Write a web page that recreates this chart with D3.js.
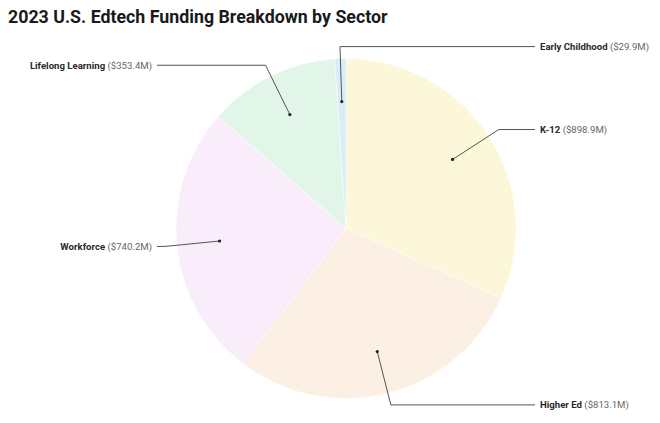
<!DOCTYPE html>
<html>
<head>
<meta charset="utf-8">
<script src="https://cdn.jsdelivr.net/npm/d3@7"></script>
<style>
  html, body { margin: 0; padding: 0; background: #fff; }
  svg { display: block; font-family: Roboto, "Noto Sans", sans-serif; }
</style>
</head>
<body>
<svg id="chart" width="660" height="423"></svg>
<script>
const title = "2023 U.S. Edtech Funding Breakdown by Sector";
const sectors = ["K-12", "Higher Ed", "Workforce", "Lifelong Learning", "Early Childhood"];
const funding = [898.9, 813.1, 740.2, 353.4, 29.9];
const valueLabels = ["($898.9M)", "($813.1M)", "($740.2M)", "($353.4M)", "($29.9M)"];
const sliceColors = ["#fdf7da", "#fcefe3", "#f9edfb", "#e2f5e9", "#d9ecf8"];

const W = 660, H = 423;
const cx = 346, cy = 228.5, R = 170;
const svg = d3.select("#chart");

svg.append("text")
  .attr("x", 8).attr("y", 23)
  .attr("font-size", 17.8).attr("font-weight", 700).attr("fill", "#1a1a1a")
  .text(title);

const data = sectors.map((s, i) => ({ name: s, value: funding[i], label: valueLabels[i], color: sliceColors[i] }));
const pie = d3.pie().value(d => d.value).sort(null);
const arcs = pie(data);

const g = svg.append("g").attr("transform", `translate(${cx},${cy})`);
const arc = d3.arc().innerRadius(0).outerRadius(R);

g.selectAll("path.slice").data(arcs).join("path")
  .attr("class", "slice")
  .attr("d", arc)
  .attr("fill", d => d.data.color)
  .attr("stroke", "#ffffff").attr("stroke-width", 0.5);

const dotArc = d3.arc().innerRadius(127).outerRadius(127);
const elbowArc = d3.arc().innerRadius(182).outerRadius(182);
const lineEnd = 189, textX = 194;

arcs.forEach(d => {
  const p1 = dotArc.centroid(d);
  const p2 = elbowArc.centroid(d);
  const mid = (d.startAngle + d.endAngle) / 2;
  // labels near the top wrap to the right side
  const right = mid < Math.PI || mid > 2 * Math.PI - 0.1;
  const x3 = right ? lineEnd : -lineEnd;
  g.append("polyline")
    .attr("points", [p1, p2, [x3, p2[1]]].map(p => p.join(",")).join(" "))
    .attr("fill", "none").attr("stroke", "#555").attr("stroke-width", 1);
  g.append("circle").attr("cx", p1[0]).attr("cy", p1[1]).attr("r", 1.6).attr("fill", "#222");
  const t = g.append("text")
    .attr("x", right ? textX : -textX).attr("y", p2[1])
    .attr("dy", "0.35em")
    .attr("text-anchor", right ? "start" : "end")
    .attr("font-size", 9.6);
  t.append("tspan").attr("font-weight", 700).attr("fill", "#2a2a2a").text(d.data.name);
  t.append("tspan").attr("fill", "#666").text(" " + d.data.label);
});
</script>
</body>
</html>
